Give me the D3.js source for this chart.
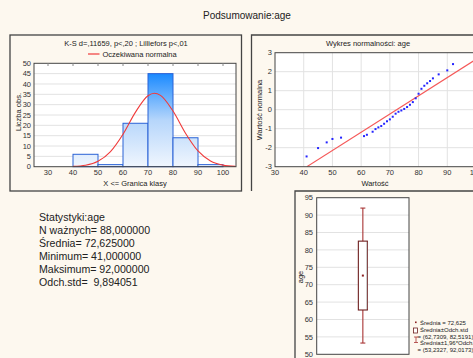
<!DOCTYPE html>
<html lang="pl">
<head>
<meta charset="UTF-8" />
<title>Podsumowanie:age</title>
<script src="https://d3js.org/d3.v7.min.js"></script>
<style>
  body { margin: 0; padding: 0; background: #fdf8ef; }
  svg { display: block; font-family: "Liberation Sans", Arial, sans-serif; }
  .tick-label { font-size: 7.5px; fill: #333; }
  .small { font-size: 7.5px; fill: #222; }
  .frame { fill: none; stroke: #444; stroke-width: 1.3; }
  .grid line { stroke: #e2e2e2; stroke-width: 1; }
  .stats text { white-space: pre; }
</style>
</head>
<body>
<script>
// ---- data ----
const binStarts = [40, 50, 60, 70, 80, 90];
const binCounts = [6, 1, 21, 45, 14, 1];
const binWidth = 10;

// expected normal curve (Oczekiwana normalna), sampled points
const curveX = [40, 45, 50, 55, 60, 65, 70, 72.5, 75, 80, 85, 90, 95, 100, 105];
const curveY = [0.16, 0.72, 2.6, 7.3, 15.7, 26.4, 34.3, 35.5, 34.5, 26.9, 16.2, 7.6, 2.75, 0.77, 0.17];

// normal probability plot
const probX = [41, 45, 48, 50, 53, 61, 62, 64, 65, 66, 67, 68, 69, 70, 71, 72, 73, 74, 75, 76, 77, 78, 79, 80, 81, 82, 83, 84, 85, 87, 90, 92];
const probZ = [-2.46, -2.02, -1.72, -1.54, -1.47, -1.39, -1.32, -1.16, -1.02, -0.93, -0.86, -0.74, -0.61, -0.51, -0.37, -0.21, -0.11, -0.04, 0.04, 0.14, 0.26, 0.40, 0.60, 0.84, 1.10, 1.26, 1.39, 1.51, 1.65, 1.86, 2.07, 2.40];
const refLineX = [41.1, 105];
const refLineZ = [-3, 3.13];

// box plot
const boxMean = 72.625;
const boxSd = [62.7309, 82.5191];
const boxCi = [53.2327, 92.0173];

const statLines = [
  "Statystyki:age",
  "N ważnych= 88,000000",
  "Średnia= 72,625000",
  "Minimum= 41,000000",
  "Maksimum= 92,000000",
  "Odch.std=  9,894051"
];

const width = 473, height = 358;
const svg = d3.select("body").append("svg")
  .attr("width", width).attr("height", height);

svg.append("rect").attr("width", width).attr("height", height).attr("fill", "#fdf8ef");

// title
svg.append("text").attr("x", 247).attr("y", 19)
  .attr("text-anchor", "middle").style("font-size", "10px").attr("fill", "#222")
  .text("Podsumowanie:age");

// panel frames
svg.append("rect").attr("class", "frame")
  .attr("x", 10).attr("y", 35).attr("width", 231.5).attr("height", 156);
svg.append("path").attr("class", "frame")
  .attr("d", "M251.5,191V35H475");
svg.append("path").attr("class", "frame")
  .attr("d", "M295,360V191H475");

// ================= histogram =================
const hx = d3.scaleLinear().domain([24.4, 105.2]).range([34, 236]);
const hy = d3.scaleLinear().domain([0, 50]).range([166.7, 63.3]);

const defs = svg.append("defs");
const grad = defs.append("linearGradient").attr("id", "barGrad")
  .attr("gradientUnits", "userSpaceOnUse")
  .attr("x1", 0).attr("x2", 0)
  .attr("y1", hy(0)).attr("y2", hy(45));
grad.append("stop").attr("offset", "0%").attr("stop-color", "#f0f6fe");
grad.append("stop").attr("offset", "50%").attr("stop-color", "#b6d6fb");
grad.append("stop").attr("offset", "100%").attr("stop-color", "#1a8aff");

const hist = svg.append("g");
hist.append("rect").attr("x", 34).attr("y", 63.3)
  .attr("width", 202).attr("height", hy(0) - 63.3).attr("fill", "#fff");

hist.append("g").attr("class", "grid")
  .selectAll("line").data(d3.range(5, 50, 5)).join("line")
  .attr("x1", 34).attr("x2", 236)
  .attr("y1", d => hy(d)).attr("y2", d => hy(d));

hist.selectAll(".bar").data(binStarts).join("rect")
  .attr("class", "bar")
  .attr("x", d => hx(d))
  .attr("width", d => hx(d + binWidth) - hx(d))
  .attr("y", (d, i) => hy(binCounts[i]))
  .attr("height", (d, i) => hy(0) - hy(binCounts[i]))
  .attr("fill", "url(#barGrad)")
  .attr("stroke", "#2a62d6").attr("stroke-width", 1);

const curveLine = d3.line()
  .x(d => hx(d[0])).y(d => hy(d[1]))
  .curve(d3.curveMonotoneX);
hist.append("path")
  .datum(curveX.map((x, i) => [x, curveY[i]]))
  .attr("d", curveLine)
  .attr("fill", "none").attr("stroke", "#f03a3a").attr("stroke-width", 1.1);

hist.append("rect").attr("x", 34).attr("y", 63.3)
  .attr("width", 202).attr("height", hy(0) - 63.3)
  .attr("fill", "none").attr("stroke", "#444").attr("stroke-width", 1);

// top tick marks
hist.selectAll(".topTick").data(d3.range(30, 101, 10)).join("line")
  .attr("x1", d => hx(d)).attr("x2", d => hx(d))
  .attr("y1", 63.3).attr("y2", 66)
  .attr("stroke", "#888");

hist.selectAll(".yl").data(d3.range(0, 51, 5)).join("text")
  .attr("class", "tick-label")
  .attr("x", 31).attr("y", d => hy(d) + 2.6)
  .attr("text-anchor", "end").text(d => d);
hist.selectAll(".xl").data(d3.range(30, 101, 10)).join("text")
  .attr("class", "tick-label")
  .attr("x", d => hx(d)).attr("y", 174.5)
  .attr("text-anchor", "middle").text(d => d);

hist.append("text").attr("class", "small")
  .attr("x", 135).attr("y", 185.5).attr("text-anchor", "middle")
  .text("X <= Granica klasy");
hist.append("text").attr("class", "small")
  .attr("transform", "translate(21,112) rotate(-90)")
  .attr("text-anchor", "middle").text("Liczba obs.");
hist.append("text").attr("class", "small")
  .attr("x", 126).attr("y", 45.5).attr("text-anchor", "middle")
  .text("K-S d=,11659, p<,20 ; Lilliefors p<,01");
hist.append("line").attr("x1", 88).attr("x2", 99.5)
  .attr("y1", 54).attr("y2", 54)
  .attr("stroke", "#f03a3a").attr("stroke-width", 1.2);
hist.append("text").attr("class", "small")
  .attr("x", 102.5).attr("y", 56.5).text("Oczekiwana normalna");

// ================= normal probability plot =================
const px = d3.scaleLinear().domain([30, 100]).range([275, 476]);
const py = d3.scaleLinear().domain([-3, 3]).range([166.7, 52.7]);
const prob = svg.append("g");

prob.append("rect").attr("x", 275).attr("y", 52.7)
  .attr("width", 210).attr("height", 114).attr("fill", "#fff");
prob.append("clipPath").attr("id", "probClip")
  .append("rect").attr("x", 275).attr("y", 52.7).attr("width", 210).attr("height", 114);

const pg = prob.append("g").attr("class", "grid");
pg.selectAll(".v").data(d3.range(40, 101, 10)).join("line")
  .attr("x1", d => px(d)).attr("x2", d => px(d))
  .attr("y1", 52.7).attr("y2", 166.7);
pg.selectAll(".h").data(d3.range(-2, 3, 1)).join("line")
  .attr("x1", 275).attr("x2", 485)
  .attr("y1", d => py(d)).attr("y2", d => py(d));

prob.append("line")
  .attr("clip-path", "url(#probClip)")
  .attr("x1", px(refLineX[0])).attr("y1", py(refLineZ[0]))
  .attr("x2", px(refLineX[1])).attr("y2", py(refLineZ[1]))
  .attr("stroke", "#f55858").attr("stroke-width", 1.1);

prob.selectAll(".pt").data(probX).join("rect")
  .attr("x", d => px(d) - 1).attr("y", (d, i) => py(probZ[i]) - 1)
  .attr("width", 2).attr("height", 2).attr("fill", "#2424ff");

prob.append("rect").attr("x", 275).attr("y", 52.7)
  .attr("width", 210).attr("height", 114)
  .attr("fill", "none").attr("stroke", "#444").attr("stroke-width", 1);

prob.selectAll(".yl").data(d3.range(-3, 4, 1)).join("text")
  .attr("class", "tick-label")
  .attr("x", 272).attr("y", d => py(d) + 2.6)
  .attr("text-anchor", "end").text(d => d);
prob.selectAll(".xl").data(d3.range(30, 101, 10)).join("text")
  .attr("class", "tick-label")
  .attr("x", d => px(d)).attr("y", 174.5)
  .attr("text-anchor", "middle").text(d => d);

prob.append("text").attr("class", "small")
  .attr("x", 375).attr("y", 185.5).attr("text-anchor", "middle").text("Wartość");
prob.append("text").attr("class", "small")
  .attr("transform", "translate(262,110) rotate(-90)")
  .attr("text-anchor", "middle").text("Wartość normalna");
prob.append("text").attr("class", "small")
  .attr("x", 368).attr("y", 45.5).attr("text-anchor", "middle")
  .text("Wykres normalności: age");

// ================= statistics text =================
svg.append("g").attr("class", "stats").selectAll("text").data(statLines).join("text")
  .attr("x", 39).attr("y", (d, i) => 221 + i * 13)
  .style("font-size", "10.6px").attr("fill", "#222")
  .text(d => d);

// ================= box plot =================
const bx = d3.scaleBand().domain(["age"]).range([316.7, 409]);
const by = d3.scaleLinear().domain([50, 95]).range([354.3, 197.7]);
const box = svg.append("g");
const cx = bx("age") + bx.bandwidth() / 2;

box.append("rect").attr("x", 316.7).attr("y", 197.7)
  .attr("width", 92.3).attr("height", 156.6).attr("fill", "#fff");
box.append("g").attr("class", "grid")
  .selectAll("line").data(d3.range(55, 95, 5)).join("line")
  .attr("x1", 316.7).attr("x2", 409)
  .attr("y1", d => by(d)).attr("y2", d => by(d));

// whiskers
box.append("line").attr("x1", cx).attr("x2", cx)
  .attr("y1", by(boxCi[0])).attr("y2", by(boxCi[1]))
  .attr("stroke", "#a83434").attr("stroke-width", 1.1);
boxCi.forEach(v => {
  box.append("line").attr("x1", cx - 2.5).attr("x2", cx + 2.5)
    .attr("y1", by(v)).attr("y2", by(v))
    .attr("stroke", "#a83434").attr("stroke-width", 1.1);
});
// box
box.append("rect").attr("x", cx - 4.5).attr("width", 9)
  .attr("y", by(boxSd[1])).attr("height", by(boxSd[0]) - by(boxSd[1]))
  .attr("fill", "#fff").attr("stroke", "#6e1f1f").attr("stroke-width", 1.1);
box.append("line").attr("x1", cx + 3.8).attr("x2", cx + 3.8)
  .attr("y1", by(boxSd[1]) + 1).attr("y2", by(boxSd[0]) - 1)
  .attr("stroke", "#ccc").attr("stroke-width", 1);
// mean
box.append("rect").attr("x", cx - 1).attr("y", by(boxMean) - 1)
  .attr("width", 2).attr("height", 2).attr("fill", "#8a1f1f");

box.append("rect").attr("x", 316.7).attr("y", 197.7)
  .attr("width", 92.3).attr("height", 156.6)
  .attr("fill", "none").attr("stroke", "#444").attr("stroke-width", 1);

box.selectAll(".yl").data(d3.range(50, 96, 5)).join("text")
  .attr("class", "tick-label")
  .attr("x", 313).attr("y", d => by(d) + 2.6)
  .attr("text-anchor", "end").text(d => d);
box.append("text").attr("class", "small")
  .attr("transform", "translate(303,277) rotate(-90)")
  .attr("text-anchor", "middle").text("age");

// legend
const lg = box.append("g").style("font-size", "6px").attr("fill", "#222");
lg.append("rect").attr("x", 415).attr("y", 321.5).attr("width", 1.6).attr("height", 1.6).attr("fill", "#8a1f1f");
lg.append("text").attr("x", 420).attr("y", 324.5).text("Średnia = 72,625");
lg.append("rect").attr("x", 413.5).attr("y", 328).attr("width", 4).attr("height", 5)
  .attr("fill", "#fff").attr("stroke", "#6e1f1f").attr("stroke-width", 0.8);
lg.append("text").attr("x", 420).attr("y", 331.5).text("Średnia±Odch.std");
lg.append("text").attr("x", 417.5).attr("y", 338.5)
  .text("= (" + boxSd.map(v => d3.format(".4f")(v).replace(".", ",")).join(", ") + ")");
lg.append("path").attr("d", "M414,337H418M416,337V342.5M414,342.5H418")
  .attr("stroke", "#a83434").attr("stroke-width", 0.8).attr("fill", "none");
lg.append("text").attr("x", 420).attr("y", 345).text("Średnia±1,96*Odch.std");
lg.append("text").attr("x", 417.5).attr("y", 352)
  .text("= (" + boxCi.map(v => d3.format(".4f")(v).replace(".", ",")).join(", ") + ")");
</script>
</body>
</html>
